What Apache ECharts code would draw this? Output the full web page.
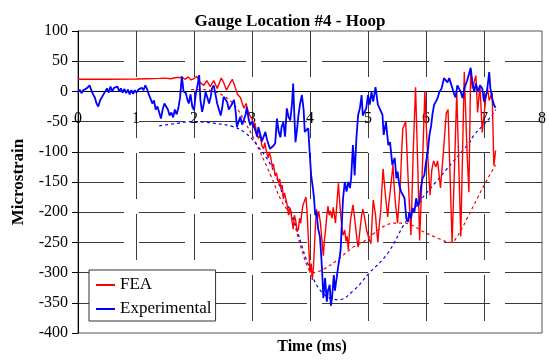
<!DOCTYPE html>
<html>
<head>
<meta charset="utf-8">
<script src="https://cdn.jsdelivr.net/npm/echarts@6/dist/echarts.min.js"></script>
<style>
  html, body { margin: 0; padding: 0; background: #fff; }
  #chart { width: 549px; height: 360px; }
</style>
</head>
<body>
<div id="chart"></div>
<script>
// Hoop strain at gauge location #4: FEA prediction vs. experimental record

const xTicks = [0, 1, 2, 3, 4, 5, 6, 7, 8];
const yTicks = [-400, -350, -300, -250, -200, -150, -100, -50, 0, 50, 100];

// FEA trace (time in ms, microstrain)
const feaT = [0, 0.5, 1.0, 1.2, 1.4, 1.5, 1.6, 1.7, 1.8, 1.85, 1.9, 1.95, 2.0, 2.05, 2.1, 2.17, 2.22, 2.28, 2.34, 2.4, 2.43, 2.47, 2.51, 2.56, 2.6, 2.66, 2.7, 2.75, 2.8, 2.86, 2.9, 2.94, 2.97,
  3.0, 3.03, 3.05, 3.08, 3.11, 3.14, 3.17, 3.2, 3.22, 3.25, 3.28, 3.3, 3.32, 3.35, 3.37, 3.4, 3.42, 3.46, 3.48, 3.5, 3.52, 3.54, 3.56, 3.58, 3.6, 3.63, 3.65, 3.67, 3.69, 3.71, 3.73, 3.75, 3.78, 3.8, 3.82, 3.84, 3.86, 3.88, 3.91, 3.93, 3.95, 3.97,
  4.0, 4.02, 4.04, 4.06, 4.08, 4.11, 4.13, 4.15, 4.18, 4.2, 4.23, 4.25, 4.27, 4.29, 4.31, 4.33, 4.35, 4.38, 4.4, 4.42, 4.44, 4.46, 4.49, 4.51, 4.53, 4.55, 4.57, 4.6, 4.62, 4.64, 4.66, 4.68, 4.7, 4.72, 4.74, 4.77, 4.79, 4.81, 4.83, 4.85, 4.87, 4.89, 4.91, 4.94, 4.96, 4.98,
  5.0, 5.02, 5.05, 5.07, 5.09, 5.11, 5.13, 5.15, 5.17, 5.19, 5.22, 5.24, 5.26, 5.28, 5.3, 5.32, 5.34, 5.36, 5.38, 5.4, 5.43, 5.45, 5.47, 5.49, 5.51, 5.53, 5.56, 5.58, 5.6,
  5.65, 5.69, 5.74, 5.78, 5.82, 5.86, 5.89, 5.94, 5.98, 6.02, 6.07, 6.1, 6.13, 6.17, 6.2, 6.25, 6.3, 6.35, 6.38, 6.45, 6.5, 6.53, 6.6, 6.66, 6.71, 6.74, 6.77, 6.8, 6.86, 6.89, 6.93, 6.97, 7.03, 7.06, 7.09, 7.14, 7.17, 7.2];
const feaV = [20, 20, 20.5, 21, 21.5, 22, 21, 23, 23, 20, 24, 19, 21, 25, 15, 10, 18, 8, 18, 5, 7, 22, 15, 2, 10, 20, 10, -5, -10, -28, -20, -37, -40,
  -45, -60, -52, -70, -78, -72, -90, -95, -85, -100, -110, -100, -108, -125, -120, -140, -135, -152, -145, -162, -155, -178, -168, -165, -185, -205, -192, -198, -215, -228, -205, -212, -232, -228, -210, -218, -200, -188, -180, -175, -200, -240,
  -300, -285, -312, -290, -250, -195, -210, -198, -218, -240, -272, -245, -228, -205, -190, -205, -198, -210, -192, -205, -218, -190, -152, -180, -205, -225, -238, -230, -248, -240, -262, -235, -212, -200, -188, -210, -228, -245, -258, -240, -222, -205, -195, -208, -220, -232,
  -238, -245, -252, -215, -180, -192, -205, -230, -250, -225, -198, -160, -128, -150, -172, -190, -208, -185, -168, -150, -122, -155, -182, -200, -218, -190, -150, -100, -62,
  -50, -140, -238, -100, 7, -130, -247, -120, 0, -90, -172, -130, -115, -125, -115, -160, -100, -36, -30, -250, -100, 0, -240, 32, -106, -167, 35, 5, 26, -35, 10, -68, -12, 5, -15, -2, -123, -98];

// Experimental trace (time in ms, microstrain)
const expT = [0, 0.03, 0.06, 0.09, 0.12, 0.15, 0.18, 0.2, 0.23, 0.26, 0.29, 0.32, 0.35, 0.38, 0.41, 0.44, 0.47, 0.5, 0.53, 0.56, 0.59, 0.62, 0.65, 0.68, 0.71, 0.74, 0.77, 0.8, 0.83, 0.86, 0.89, 0.92, 0.95, 0.98, 1.01, 1.04, 1.07, 1.1, 1.13, 1.16, 1.19, 1.22, 1.25, 1.28, 1.31, 1.34, 1.37, 1.4, 1.43, 1.46, 1.49, 1.52, 1.55, 1.58, 1.61, 1.64, 1.67, 1.7, 1.73, 1.76, 1.79, 1.82, 1.86, 1.89, 1.91, 1.94, 1.97, 2.0, 2.03, 2.06, 2.09, 2.11, 2.14, 2.17, 2.2, 2.23, 2.26, 2.29, 2.31, 2.34, 2.37, 2.4, 2.43, 2.46, 2.49, 2.51, 2.54, 2.57, 2.6, 2.63, 2.66, 2.69, 2.72, 2.74, 2.77, 2.8, 2.83, 2.86, 2.89, 2.91, 2.94, 2.97, 3.0, 3.03, 3.06, 3.09, 3.11, 3.14, 3.17, 3.2, 3.23, 3.26, 3.29, 3.31, 3.34, 3.37, 3.4, 3.43, 3.46, 3.49, 3.51, 3.54, 3.57, 3.6, 3.63, 3.66, 3.69, 3.71, 3.73, 3.75, 3.78, 3.8, 3.83, 3.86, 3.89, 3.91, 3.94, 3.97, 4.0, 4.02, 4.05, 4.07, 4.09, 4.11, 4.14, 4.17, 4.19, 4.21, 4.23, 4.26, 4.29, 4.31, 4.34, 4.36, 4.38, 4.41, 4.43, 4.46, 4.49, 4.51, 4.53, 4.55, 4.57, 4.6, 4.63, 4.66, 4.69, 4.71, 4.74, 4.77, 4.8, 4.83, 4.86, 4.89, 4.91, 4.94, 4.97, 5.0, 5.03, 5.06, 5.09, 5.13, 5.17, 5.2, 5.25, 5.27, 5.31, 5.35, 5.38, 5.42, 5.46, 5.49, 5.51, 5.54, 5.57, 5.6, 5.63, 5.66, 5.69, 5.71, 5.74, 5.77, 5.8, 5.83, 5.86, 5.89, 5.91, 5.94, 5.97, 6.0, 6.03, 6.06, 6.09, 6.11, 6.14, 6.17, 6.2, 6.23, 6.27, 6.31, 6.34, 6.37, 6.4, 6.44, 6.49, 6.51, 6.54, 6.57, 6.6, 6.63, 6.66, 6.71, 6.74, 6.77, 6.8, 6.83, 6.86, 6.9, 6.93, 6.97, 7.0, 7.05, 7.09, 7.11, 7.14, 7.17, 7.2];
const expV = [-2, 3, -3, 2, 0, 5, 3, 10, 2, -5, -10, -20, -25, -15, -12, -5, -3, 5, -2, 8, 0, 6, 3, 8, 0, 5, -2, 4, -3, 3, -5, 2, -4, 2, -2, 3, 0, 6, 2, 10, 4, -5, -12, -20, -15, -30, -25, -35, -45, -30, -20, -18, -30, -40, -35, -43, -30, -38, -28, -10, 25, 0, -3, -15, -20, -5, -25, -31, -5, 10, 27, -14, -34, -20, -1, -10, -20, -8, 5, 10, -5, -20, -30, -40, -25, -9, -12, -17, -30, -25, -20, -14, -35, -59, -50, -42, -55, -47, -38, -26, -45, -56, -50, -47, -65, -75, -59, -70, -83, -75, -67, -80, -89, -95, -97, -90, -86, -45, -67, -76, -59, -51, -75, -28, -42, -48, -20, 13, -40, -84, -60, -40, -20, -6, -30, -67, -64, -61, -110, -139, -160, -177, -205, -199, -227, -240, -266, -300, -342, -309, -348, -330, -320, -355, -342, -304, -330, -332, -287, -276, -260, -216, -177, -150, -166, -150, -160, -143, -89, -139, -77, -39, -28, -6, -40, -34, -28, -6, -22, -1, -17, 7, -22, -28, -39, -72, -51, -89, -84, -122, -110, -144, -133, -155, -166, -171, -177, -210, -216, -200, -210, -193, -200, -177, -190, -183, -160, -144, -139, -117, -100, -72, -56, -39, -22, -17, -11, -1, 5, 22, 24, 15, 22, 10, -6, -10, 10, 13, -1, -11, 5, 18, 20, 39, 15, -1, 13, -1, 10, 5, -17, -1, 32, 5, -11, -22, -27];

// Envelope of the FEA response (dashed)
const feaEnvT = [1.95, 2.1, 2.3, 2.54, 2.74, 2.89, 3.0, 3.14, 3.34, 3.5, 3.69, 3.85, 3.97, 4.05, 4.15, 4.26, 4.46, 4.74, 4.89, 5.09, 5.3, 5.46, 5.6, 5.77, 5.91, 6.2, 6.43, 6.54, 6.71, 6.89, 7.06, 7.2];
const feaEnvV = [3, 3, 1, -9, -28, -53, -72, -100, -143, -180, -210, -260, -293, -300, -298, -293, -280, -258, -251, -236, -222, -218, -218, -222, -230, -243, -250, -240, -210, -176, -145, -122];

// Envelope of the experimental response (dashed)
const expEnvT = [1.4, 1.7, 1.97, 2.2, 2.37, 2.66, 2.89, 3.11, 3.34, 3.57, 3.69, 3.97, 4.2, 4.49, 4.77, 5.0, 5.34, 5.63, 5.91, 6.17, 6.46, 6.74, 6.83, 7.11, 7.2];
const expEnvV = [-57, -53, -50, -51, -53, -58, -69, -92, -125, -180, -204, -287, -332, -345, -328, -303, -268, -219, -180, -150, -117, -86, -72, -43, -30];

const pairs = (t, v) => t.map((x, i) => [x, v[i]]);

const SERIF = '"Liberation Serif", "Times New Roman", serif';
const gridColor = '#3a3a3a';
const dash = [46, 15];

const GRID = { left: 78, top: 31, width: 467, height: 302 };
const yMin = yTicks[0], yMax = yTicks[yTicks.length - 1];
// the time axis runs along the zero-strain line
const xAxisOffset = -GRID.height * (0 - yMin) / (yMax - yMin);

const chart = echarts.init(document.getElementById('chart'), null, { renderer: 'canvas' });

chart.setOption({
  animation: false,
  backgroundColor: '#fff',
  title: {
    text: 'Gauge Location #4 - Hoop',
    left: 285, top: 8,
    textAlign: 'center',
    textStyle: { fontFamily: SERIF, fontSize: 17, fontWeight: 'bold', color: '#000' }
  },
  grid: Object.assign({ show: true, borderColor: '#555', borderWidth: 1, backgroundColor: 'transparent' }, GRID),
  legend: {
    orient: 'vertical',
    left: 89, top: 270,
    padding: [6, 4, 3, 7],
    itemGap: 6,
    itemWidth: 19, itemHeight: 2,
    icon: 'rect',
    backgroundColor: '#fff',
    borderColor: '#333', borderWidth: 1, borderRadius: 0,
    data: ['FEA', 'Experimental'],
    textStyle: { fontFamily: SERIF, fontSize: 17, color: '#000', lineHeight: 18 }
  },
  xAxis: {
    type: 'value',
    position: 'bottom',
    offset: xAxisOffset,
    min: xTicks[0], max: xTicks[xTicks.length - 1], interval: 1,
    axisLine: { onZero: false, lineStyle: { color: '#000', width: 1 } },
    axisTick: { show: false },
    axisLabel: { fontFamily: SERIF, fontSize: 16, color: '#000', margin: 19 },
    splitLine: { show: true, showMinLine: false, showMaxLine: false, lineStyle: { color: gridColor, width: 1, type: dash } }
  },
  yAxis: {
    type: 'value',
    min: yMin, max: yMax, interval: 50,
    axisLine: { show: true, onZero: false, lineStyle: { color: '#000', width: 1 } },
    axisTick: { show: true, length: 6, lineStyle: { color: '#000' } },
    axisLabel: { fontFamily: SERIF, fontSize: 16, color: '#000', margin: 10 },
    splitLine: { show: true, showMinLine: false, showMaxLine: false, lineStyle: { color: gridColor, width: 1, type: dash } }
  },
  graphic: [
    {
      type: 'text', x: 312, y: 347,
      style: { text: 'Time (ms)', fontFamily: SERIF, fontSize: 16, fontWeight: 'bold', fill: '#000', align: 'center', verticalAlign: 'middle' }
    },
    {
      type: 'text', x: 19, y: 182, rotation: Math.PI / 2,
      style: { text: 'Microstrain', fontFamily: SERIF, fontSize: 17, fontWeight: 'bold', fill: '#000', align: 'center', verticalAlign: 'middle' }
    }
  ],
  series: [
    {
      name: 'FEA envelope', type: 'line', data: pairs(feaEnvT, feaEnvV),
      showSymbol: false, smooth: 0.4, silent: true,
      lineStyle: { color: '#ff0000', width: 1.2, type: [3, 3] }
    },
    {
      name: 'Experimental envelope', type: 'line', data: pairs(expEnvT, expEnvV),
      showSymbol: false, smooth: 0.4, silent: true,
      lineStyle: { color: '#0000ff', width: 1.2, type: [3, 3] }
    },
    {
      name: 'FEA', type: 'line', data: pairs(feaT, feaV),
      showSymbol: false, color: '#ff0000',
      lineStyle: { color: '#ff0000', width: 1.4 }
    },
    {
      name: 'Experimental', type: 'line', data: pairs(expT, expV),
      showSymbol: false, color: '#0000ff',
      lineStyle: { color: '#0000ff', width: 1.8 }
    }
  ]
});
</script>
</body>
</html>
